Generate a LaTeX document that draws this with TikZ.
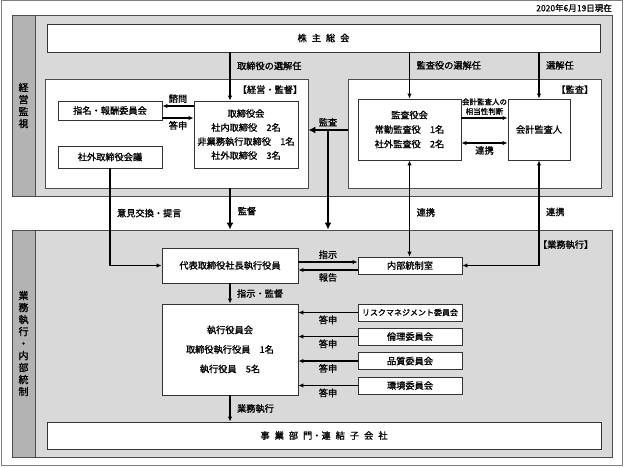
\documentclass[tikz,border=0pt]{standalone}
\usepackage{fontspec}
\setmainfont{Noto Sans CJK JP}[FakeBold=1.2]
\usetikzlibrary{arrows.meta,calc}

\definecolor{panelgray}{HTML}{D9D9D9}
\definecolor{stripgray}{HTML}{B3B3B3}
\definecolor{linegray}{HTML}{4D4D4D}

\begin{document}
\begin{tikzpicture}[x=1pt,y=1pt,font=\fontsize{9.2}{12}\selectfont]
\tikzstyle{every node}+=[inner sep=0pt]
\tikzstyle{panel}=[draw=linegray,fill=panelgray,line width=0.8pt]
\tikzstyle{strip}=[draw=linegray,fill=stripgray,line width=0.8pt,minimum width=23,align=center,font=\fontsize{10}{12}\selectfont]
\tikzstyle{frame}=[draw=linegray,fill=white,line width=0.8pt]
\tikzstyle{box}=[draw=black!80,fill=white,line width=0.9pt]
\tikzstyle{lbl}=[inner sep=2.5pt]
\tikzstyle{arr}=[-{Latex[length=5pt,width=4.5pt]},line width=1.2pt]
\tikzstyle{dblarr}=[{Latex[length=5pt,width=4.5pt]}-{Latex[length=5pt,width=4.5pt]},line width=1.2pt]
\tikzstyle{bigarr}=[-{Latex[length=7pt,width=7pt]},line width=2.4pt]
\useasboundingbox (0,0) rectangle (624,-467);
\draw [gray] (1.5,-0.5) rectangle (622.5,-465.5);
\draw (612,-8) node (date) [anchor=east,font=\fontsize{8.5}{10}\selectfont] {2020年6月19日現在};

\draw (312,-105.5) node (kanshi) [panel,minimum width=600,minimum height=181] {};
\draw (23.5,-105.5) node (kanshilbl) [strip,minimum height=181] {経\\営\\監\\視};
\draw (312,-343.5) node (gyomu) [panel,minimum width=600,minimum height=227] {};
\draw (23.5,-343.5) node (gyomulbl) [strip,minimum height=227] {業\\務\\執\\行\\・\\内\\部\\統\\制};

\draw (176.5,-133.5) node (keiei) [frame,minimum width=263,minimum height=109] {};
\draw (474.5,-133.5) node (kansa) [frame,minimum width=253,minimum height=109] {};
\draw ([shift={(-6,-11)}]keiei.north east) node (keieihd) [anchor=east] {【経営・監督】};
\draw ([shift={(-8,-11)}]kansa.north east) node (kansahd) [anchor=east] {【監査】};
\draw ([shift={(-19,-15)}]gyomu.north east) node (gyomuhd) [anchor=east] {【業務執行】};

\draw (323.5,-38) node (kabu) [box,minimum width=553,minimum height=28] {株\kern5pt主\kern5pt総\kern5pt会};
\draw (110,-110.5) node (shimei) [box,minimum width=104,minimum height=19] {指名・報酬委員会};
\draw (246,-134.5) node (torishimari) [box,minimum width=104,minimum height=67,align=center,font=\fontsize{9.2}{14}\selectfont] {取締役会\\社内取締役　2名\\非業務執行取締役　1名\\社外取締役　3名};
\draw (110,-157) node (shagai) [box,minimum width=104,minimum height=22] {社外取締役会議};
\draw (409.5,-129.5) node (kansayaku) [box,minimum width=103,minimum height=61,align=center,font=\fontsize{9.2}{14.5}\selectfont] {監査役会\\常勤監査役　1名\\社外監査役　2名};
\draw (539,-129.5) node (kaikei) [box,minimum width=62,minimum height=61] {会計監査人};
\draw (230,-265.5) node (daihyo) [box,minimum width=136,minimum height=35] {代表取締役社長執行役員};
\draw (410,-265.5) node (naibu) [box,minimum width=104,minimum height=17] {内部統制室};
\draw (230,-349.5) node (shikkou) [box,minimum width=136,minimum height=91,align=center,font=\fontsize{9.2}{19.5}\selectfont] {執行役員会\\取締役執行役員　1名\\執行役員　5名};
\foreach \name/\y/\txt in {risk/312.5/{\fontsize{8}{10}\selectfont リスクマネジメント委員会},rinri/336.5/倫理委員会,hinshitsu/361/品質委員会,kankyo/385.5/環境委員会}
  \draw (410,-\y) node (\name) [box,minimum width=104,minimum height=17] {\txt};
\draw (324,-435.5) node (jigyo) [box,minimum width=554,minimum height=27] {事\kern5pt業\kern5pt部\kern5pt門・連\kern5pt結\kern5pt子\kern5pt会\kern5pt社};

\draw [arr] (kabu.south -| daihyo) -- (torishimari.north -| daihyo) node [lbl,pos=0.28,right=4pt] {取締役の選解任};
\draw [arr] (kabu.south -| kansayaku) -- (kansayaku.north) node [lbl,pos=0.28,right=4pt] {監査役の選解任};
\draw [arr] (kabu.south -| kaikei) -- (kaikei.north) node [lbl,pos=0.28,right=4pt] {選解任};
\draw [arr] ([yshift=4.5pt]shimei.east -| torishimari.west) -- ([yshift=4.5pt]shimei.east) node [lbl,midway,above] {諮問};
\draw [arr] ([yshift=-7.5pt]shimei.east) -- ([yshift=-7.5pt]shimei.east -| torishimari.west) node [lbl,midway,below] {答申};
\draw [arr] ([yshift=11.5pt]kansayaku.east) -- ([yshift=11.5pt]kansayaku.east -| kaikei.west) node [lbl,midway,above,align=center,font=\fontsize{7.5}{9.5}\selectfont] {会計監査人の\\相当性判断};
\draw [dblarr] ([yshift=-13.5pt]kansayaku.east) -- ([yshift=-13.5pt]kansayaku.east -| kaikei.west) node [lbl,midway,below] {連携};

\draw [bigarr] ([yshift=3.5pt]kansa.west) -- ([yshift=3.5pt]keiei.east) node [lbl,midway,above] {監査};
\coordinate (kj) at ($([yshift=3.5pt]keiei.east)!0.5!([yshift=3.5pt]kansa.west)$);
\draw [bigarr] (kj) -- (kj |- gyomu.north);
\draw [bigarr] (keiei.south -| daihyo) -- (gyomu.north -| daihyo) node [lbl,pos=0.55,right=4pt] {監督};
\draw [arr] (shagai.south) |- (daihyo.west) node [lbl,pos=0.23,right=4pt] {意見交換・提言};
\draw [dblarr] (kansayaku.south) -- (kansayaku.south |- naibu.north) node [lbl,pos=0.54,right=4pt] {連携};
\draw [dblarr] (kaikei.south) |- (naibu.east) node [lbl,pos=0.245,right=4pt] {連携};

\draw [arr] ([yshift=3.5pt]daihyo.east) -- ([yshift=3.5pt]daihyo.east -| naibu.west) node [lbl,midway,above] {指示};
\draw [arr] ([yshift=-4.5pt]naibu.west) -- ([yshift=-4.5pt]naibu.west -| daihyo.east) node [lbl,midway,below] {報告};
\draw [arr] (daihyo.south) -- (shikkou.north) node [lbl,midway,right=4pt] {指示・監督};
\foreach \name in {risk,rinri,hinshitsu,kankyo}
  \draw [arr] (\name.west) -- (\name.west -| shikkou.east) node [lbl,midway,below] {答申};
\draw [arr] (shikkou.south) -- (jigyo.north -| shikkou) node [lbl,midway,right=4pt] {業務執行};
\end{tikzpicture}
\end{document}
